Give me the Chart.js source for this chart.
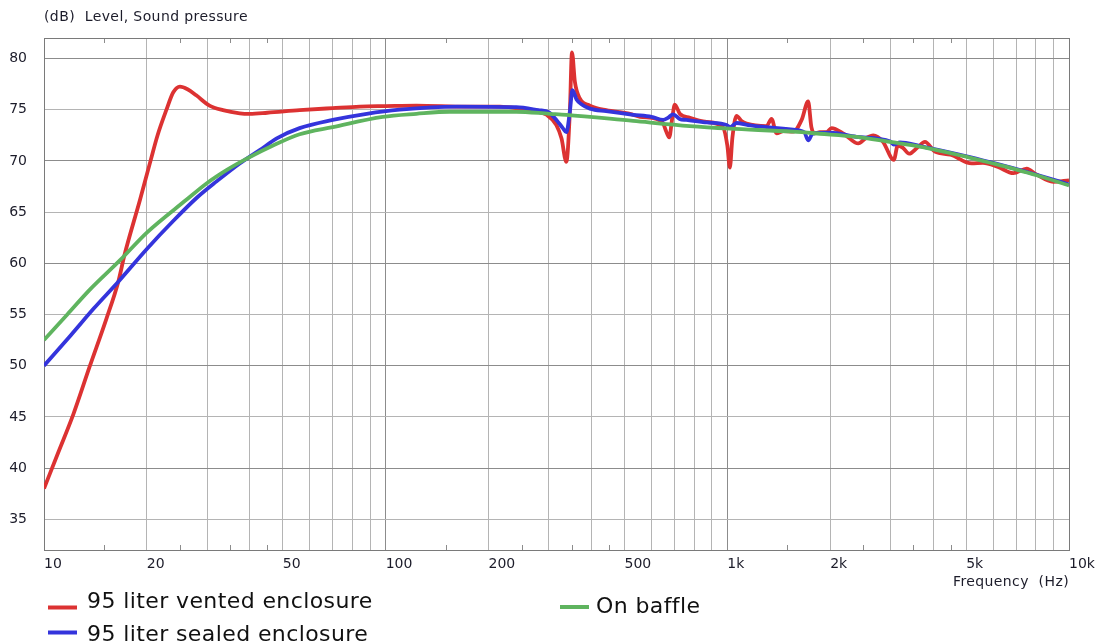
<!DOCTYPE html>
<html>
<head>
<meta charset="utf-8">
<script src="https://cdn.jsdelivr.net/npm/chart.js@4.4.1/dist/chart.umd.min.js"></script>
<style>
    html, body { margin: 0; padding: 0; background: #fff; }
    #wrap { position: relative; width: 1102px; height: 644px; }
</style>
</head>
<body>
<div id="wrap"><canvas id="spl" width="1102" height="644"></canvas></div>
<script>
/*---- data ----*/
const ventedFreq = [10, 11, 12.2, 13.6, 15.2, 16.5, 17.2, 19.1, 20.5, 21.5, 22.8, 23.9, 25, 26.3, 27.9, 30.5, 33.4, 37.4, 40, 45, 56, 70, 84, 100, 123, 172, 216, 247, 275, 296, 316, 327, 338, 346, 351, 358, 370, 396, 442, 519, 555, 620, 650, 662, 676, 690, 702, 726, 777, 869, 970, 1000, 1017, 1035, 1064, 1100, 1138, 1302, 1347, 1393, 1460, 1559, 1650, 1724, 1762, 1803, 1866, 1950, 2018, 2200, 2417, 2540, 2674, 2850, 3072, 3153, 3260, 3405, 3600, 3787, 4051, 4500, 5188, 5600, 6200, 6871, 7519, 8000, 8997, 10000];
const ventedDb = [38.0, 41.5, 45.3, 49.9, 54.5, 58.2, 60.8, 66.2, 70.0, 72.5, 74.95, 76.7, 77.25, 77.0, 76.4, 75.4, 74.95, 74.65, 74.6, 74.7, 74.95, 75.15, 75.3, 75.35, 75.4, 75.3, 75.3, 75.1, 74.85, 74.5, 73.5, 72.2, 69.9, 74.8, 80.6, 77.7, 76.1, 75.4, 74.95, 74.6, 74.3, 74.1, 73.6, 72.9, 72.3, 74.2, 75.5, 74.6, 74.2, 73.8, 73.3, 71.5, 69.35, 72.3, 74.4, 73.9, 73.65, 73.4, 74.1, 72.7, 72.9, 72.85, 74.0, 75.8, 73.3, 72.7, 72.8, 72.8, 73.2, 72.6, 71.7, 72.2, 72.5, 71.9, 70.1, 71.5, 71.3, 70.7, 71.3, 71.85, 70.9, 70.6, 69.75, 69.8, 69.4, 68.8, 69.25, 68.7, 67.95, 68.1];

const sealedFreq = [10, 12, 14, 16.5, 20, 24, 28, 32, 37.4, 42.8, 48, 56, 70, 88, 110, 161, 241, 280, 300, 316, 330, 338, 346, 352, 362, 375, 396, 442, 530, 600, 649, 670, 694, 725, 759, 870, 995, 1017, 1064, 1150, 1302, 1559, 1680, 1724, 1770, 1803, 2000, 2389, 3000, 3072, 3200, 3661, 5016, 6000, 7027, 8041, 10000];
const sealedDb = [50.0, 53.0, 55.6, 58.2, 61.4, 64.2, 66.4, 68.0, 69.75, 71.05, 72.2, 73.2, 74.0, 74.6, 75.0, 75.3, 75.25, 74.95, 74.75, 74.0, 73.2, 72.8, 74.8, 76.9, 76.0, 75.5, 75.1, 74.85, 74.5, 74.3, 74.0, 74.2, 74.55, 74.1, 74.0, 73.75, 73.5, 73.3, 73.7, 73.5, 73.3, 73.05, 72.8, 72.0, 72.6, 72.7, 72.75, 72.35, 71.9, 71.6, 71.8, 71.45, 70.45, 69.8, 69.2, 68.65, 67.7];

const baffleFreq = [10, 11.7, 13.6, 16.7, 20, 26.1, 29.9, 34.2, 39.1, 46.8, 56, 70, 98, 123, 154, 241, 302, 338, 530, 777, 1017, 1559, 1866, 2389, 2993, 3661, 5016, 5997, 7027, 8041, 10000];
const baffleDb = [52.5, 55.0, 57.4, 60.3, 63.0, 66.2, 67.8, 69.1, 70.2, 71.5, 72.6, 73.3, 74.3, 74.6, 74.8, 74.8, 74.6, 74.5, 73.9, 73.4, 73.15, 72.85, 72.65, 72.35, 71.85, 71.4, 70.4, 69.75, 69.15, 68.6, 67.6];

const freqGrid = [10, 20, 30, 40, 50, 60, 70, 80, 90, 100, 200, 300, 400, 500, 600, 700, 800, 900, 1000, 2000, 3000, 4000, 5000, 6000, 7000, 8000, 9000, 10000];
const freqMinor = [15, 25, 35, 45, 150, 250, 350, 450, 1500, 2500, 3500, 4500];
const freqTickValues = [10, 20, 50, 100, 200, 500, 1000, 2000, 5000, 10000];
const freqTickLabels = ['10', '20', '50', '100', '200', '500', '1k', '2k', '5k', '10k'];
const dbTicks = [35, 40, 45, 50, 55, 60, 65, 70, 75, 80];

const FONT = '"DejaVu Sans", Verdana, sans-serif';
const TEXT = '#1c1c2a';
const GRID_LIGHT = '#b4b4b4';
const GRID_DARK = '#8c8c8c';

function toPoints(xs, ys) {
    return xs.map((x, i) => ({ x: x, y: ys[i] }));
}

/*---- frame, minor ticks, titles and legend ----*/
const decor = {
    id: 'decor',
    beforeDraw(chart) {
        const c = chart.ctx;
        c.save();
        c.fillStyle = '#fff';
        c.fillRect(0, 0, chart.width, chart.height);
        c.restore();
    },
    beforeDatasetsDraw(chart) {
        const c = chart.ctx, a = chart.chartArea, xs = chart.scales.x;
        c.save();
        c.strokeStyle = GRID_DARK;
        c.lineWidth = 1;
        c.beginPath();
        freqMinor.forEach(f => {
            const px = Math.round(xs.getPixelForValue(f)) + 0.5;
            c.moveTo(px, a.top); c.lineTo(px, a.top + 5);
            c.moveTo(px, a.bottom); c.lineTo(px, a.bottom - 5);
        });
        c.stroke();
        c.strokeStyle = '#7a7a7a';
        c.strokeRect(Math.round(a.left) + 0.5, Math.round(a.top) + 0.5, Math.round(a.right - a.left), Math.round(a.bottom - a.top));
        c.restore();
    },
    afterDraw(chart) {
        const c = chart.ctx, a = chart.chartArea;
        c.save();
        c.fillStyle = TEXT;
        c.font = '14px ' + FONT;
        c.letterSpacing = '0.4px';
        c.textBaseline = 'alphabetic';
        c.textAlign = 'left';
        c.fillText('(dB)  Level, Sound pressure', a.left, 21);
        c.textAlign = 'right';
        c.fillText('Frequency  (Hz)', a.right, 586);

        // legend
        c.textAlign = 'left';
        c.font = '22px ' + FONT;
        c.fillStyle = '#dc3232';
        c.fillRect(48, 605.5, 29, 4);
        c.fillStyle = '#3434dc';
        c.fillRect(48, 630.5, 29, 4);
        c.fillStyle = '#5fb45f';
        c.fillRect(560, 605, 29, 4);
        c.fillStyle = '#111';
        c.fillText('95 liter vented enclosure', 87, 607.5);
        c.fillText('95 liter sealed enclosure', 87, 640.5);
        c.fillText('On baffle', 596, 613);
        c.restore();
    }
};

const ctx = document.getElementById('spl').getContext('2d');
const splChart = new Chart(ctx, {
    type: 'line',
    data: {
        datasets: [{
            label: '95 liter vented enclosure',
            data: toPoints(ventedFreq, ventedDb),
            borderColor: '#dc3232',
            order: 3,
        }, {
            label: '95 liter sealed enclosure',
            data: toPoints(sealedFreq, sealedDb),
            borderColor: '#3434dc',
            order: 2,
        }, {
            label: 'On baffle',
            data: toPoints(baffleFreq, baffleDb),
            borderColor: '#5fb45f',
            order: 1,
        }]
    },
    options: {
        responsive: false,
        animation: false,
        devicePixelRatio: 1,
        layout: { padding: { top: 38, right: 33, left: 0, bottom: 0 } },
        elements: {
            line: { borderWidth: 3.8, cubicInterpolationMode: 'monotone', fill: false },
            point: { radius: 0 },
        },
        plugins: {
            legend: { display: false },
            tooltip: { enabled: false },
        },
        scales: {
            x: {
                type: 'logarithmic',
                min: 10,
                max: 10000,
                afterBuildTicks: s => { s.ticks = freqGrid.map(v => ({ value: v })); },
                afterFit: s => { s.height = 94; },
                grid: {
                    drawTicks: false,
                    color: c => ([100, 1000].includes(c.tick && c.tick.value) ? GRID_DARK : GRID_LIGHT),
                },
                border: { color: '#7a7a7a' },
                ticks: {
                    autoSkip: false,
                    maxRotation: 0,
                    align: 'start',
                    padding: 6,
                    color: TEXT,
                    font: { family: FONT, size: 14 },
                    callback: function (value) {
                        const i = freqTickValues.indexOf(value);
                        return i >= 0 ? freqTickLabels[i] : '';
                    }
                }
            },
            y: {
                min: 32,
                max: 82,
                afterBuildTicks: s => { s.ticks = dbTicks.map(v => ({ value: v })); },
                afterFit: s => { s.width = 44; },
                grid: {
                    drawTicks: false,
                    color: c => (c.tick && c.tick.value % 10 === 0 ? GRID_DARK : GRID_LIGHT),
                },
                border: { color: '#7a7a7a' },
                ticks: {
                    padding: 17,
                    color: TEXT,
                    font: { family: FONT, size: 14 },
                }
            }
        }
    },
    plugins: [decor]
});
</script>
</body>
</html>
